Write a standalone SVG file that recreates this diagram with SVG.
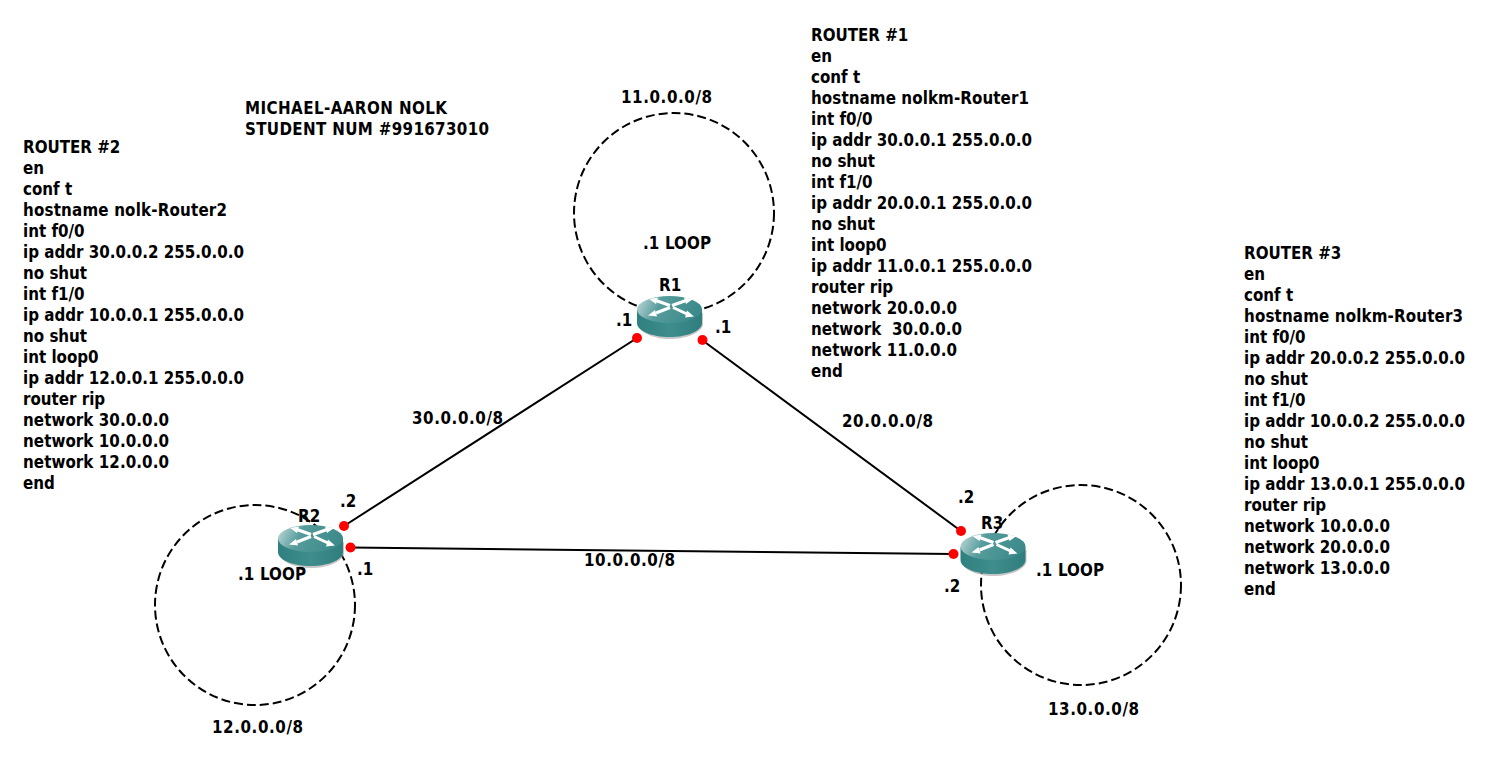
<svg xmlns="http://www.w3.org/2000/svg" width="1490" height="762" viewBox="0 0 1490 762">
<style>
text{font-family:"DejaVu Sans Condensed","DejaVu Sans",sans-serif;font-stretch:condensed;font-weight:700;font-size:16.800px;fill:#000}
.link{stroke:#000;stroke-width:2;fill:none}
.loop{stroke:#000;stroke-width:2;fill:none;stroke-dasharray:9 4}
.dot{fill:#f00}
.arr{stroke:#fff;stroke-width:3;fill:none}
</style>
<defs>
<linearGradient id="top" x1="0" y1="0" x2="1" y2="0.2"><stop offset="0" stop-color="#c4dada"/><stop offset="0.4" stop-color="#569c9c"/><stop offset="1" stop-color="#3c8a8a"/></linearGradient>
<linearGradient id="side" x1="0" y1="0" x2="1" y2="0"><stop offset="0" stop-color="#2f8080"/><stop offset="0.5" stop-color="#3f8d8d"/><stop offset="1" stop-color="#2f7d7d"/></linearGradient>
<g id="router">
<path d="M1 17V29C3 37 17 43 33 43C49 43 64 37 66 29V17Z" fill="#999" opacity="0.55"/>
<path d="M0 14V27C0 35 15 41 32.500 41C50 41 65 35 65 27V14Z" fill="url(#side)"/>
<ellipse cx="32.500" cy="13.500" rx="32.500" ry="13.500" fill="url(#top)"/>
<path class="arr" d="M19 4.500L33 9.500M49 4.500L35 9.500M19 17L33 11.500M50 18L36 11.500"/>
<path d="M12 3L21 1.500L19 8ZM56 3L47 1.500L49 8ZM11 19.500L20 20.500L18 14ZM57 20.500L48 21.500L50 14.500Z" fill="#fff"/>
</g>
</defs>
<rect width="1490" height="762" fill="#fff"/>
<g id="connectors">
<circle class="loop" cx="674" cy="213" r="100"/>
<circle class="loop" cx="255" cy="605" r="100"/>
<circle class="loop" cx="1081" cy="585" r="100"/>
<line class="link" x1="637" y1="338" x2="344" y2="526"/>
<line class="link" x1="702" y1="340" x2="961" y2="531"/>
<line class="link" x1="350" y1="547.500" x2="953" y2="554"/>
</g>
<g id="R1"><use href="#router" x="637" y="296"/><text x="659" y="291">R1</text></g>
<g id="R2"><use href="#router" x="278" y="525"/><text x="298" y="522">R2</text></g>
<g id="R3"><use href="#router" x="960.500" y="533"/><text x="981" y="529">R3</text></g>
<g id="ports">
<circle class="dot" cx="637" cy="338" r="5"/><circle class="dot" cx="702.500" cy="340" r="5"/>
<circle class="dot" cx="344" cy="526" r="5"/><circle class="dot" cx="350.500" cy="547.500" r="5"/>
<circle class="dot" cx="961" cy="531" r="5"/><circle class="dot" cx="953.500" cy="554" r="5"/>
</g>
<g id="labels">
<text x="616" y="326">.1</text><text x="715" y="333">.1</text>
<text x="340" y="507">.2</text><text x="357" y="575">.1</text>
<text x="958" y="503">.2</text><text x="944" y="592">.2</text>
<text x="621" y="103" textLength="91">11.0.0.0/8</text>
<text x="212" y="733" textLength="91">12.0.0.0/8</text>
<text x="1048" y="715" textLength="91">13.0.0.0/8</text>
<text x="412" y="424" textLength="91">30.0.0.0/8</text>
<text x="842" y="427" textLength="91">20.0.0.0/8</text>
<text x="584" y="566" textLength="91">10.0.0.0/8</text>
<text x="643" y="249" textLength="68">.1 LOOP</text>
<text x="238" y="580" textLength="68">.1 LOOP</text>
<text x="1036" y="576" textLength="68">.1 LOOP</text>
</g>
<g id="title">
<text x="245" y="114" textLength="202">MICHAEL-AARON NOLK</text>
<text x="245" y="135" textLength="244">STUDENT NUM #991673010</text>
</g>
<g id="router1-config">
<text x="811" y="41">ROUTER #1</text><text x="811" y="62">en</text><text x="811" y="83">conf t</text>
<text x="811" y="104" textLength="218">hostname nolkm-Router1</text><text x="811" y="125">int f0/0</text>
<text x="811" y="146" textLength="221">ip addr 30.0.0.1 255.0.0.0</text><text x="811" y="167">no shut</text>
<text x="811" y="188">int f1/0</text><text x="811" y="209" textLength="221">ip addr 20.0.0.1 255.0.0.0</text>
<text x="811" y="230">no shut</text><text x="811" y="251">int loop0</text>
<text x="811" y="272" textLength="221">ip addr 11.0.0.1 255.0.0.0</text><text x="811" y="293">router rip</text>
<text x="811" y="314" textLength="146">network 20.0.0.0</text><text x="811" y="335" xml:space="preserve" textLength="151">network  30.0.0.0</text>
<text x="811" y="356" textLength="146">network 11.0.0.0</text><text x="811" y="377">end</text>
</g>
<g id="router2-config">
<text x="23" y="153">ROUTER #2</text><text x="23" y="174">en</text><text x="23" y="195">conf t</text>
<text x="23" y="216" textLength="204">hostname nolk-Router2</text><text x="23" y="237">int f0/0</text>
<text x="23" y="258" textLength="221">ip addr 30.0.0.2 255.0.0.0</text><text x="23" y="279">no shut</text>
<text x="23" y="300">int f1/0</text><text x="23" y="321" textLength="221">ip addr 10.0.0.1 255.0.0.0</text>
<text x="23" y="342">no shut</text><text x="23" y="363">int loop0</text>
<text x="23" y="384" textLength="221">ip addr 12.0.0.1 255.0.0.0</text><text x="23" y="405">router rip</text>
<text x="23" y="426" textLength="146">network 30.0.0.0</text><text x="23" y="447" textLength="146">network 10.0.0.0</text>
<text x="23" y="468" textLength="146">network 12.0.0.0</text><text x="23" y="489">end</text>
</g>
<g id="router3-config">
<text x="1244" y="259">ROUTER #3</text><text x="1244" y="280">en</text><text x="1244" y="301">conf t</text>
<text x="1244" y="322" textLength="219">hostname nolkm-Router3</text><text x="1244" y="343">int f0/0</text>
<text x="1244" y="364" textLength="221">ip addr 20.0.0.2 255.0.0.0</text><text x="1244" y="385">no shut</text>
<text x="1244" y="406">int f1/0</text><text x="1244" y="427" textLength="221">ip addr 10.0.0.2 255.0.0.0</text>
<text x="1244" y="448">no shut</text><text x="1244" y="469">int loop0</text>
<text x="1244" y="490" textLength="221">ip addr 13.0.0.1 255.0.0.0</text><text x="1244" y="511">router rip</text>
<text x="1244" y="532" textLength="146">network 10.0.0.0</text><text x="1244" y="553" textLength="146">network 20.0.0.0</text>
<text x="1244" y="574" textLength="146">network 13.0.0.0</text><text x="1244" y="595">end</text>
</g>
</svg>
